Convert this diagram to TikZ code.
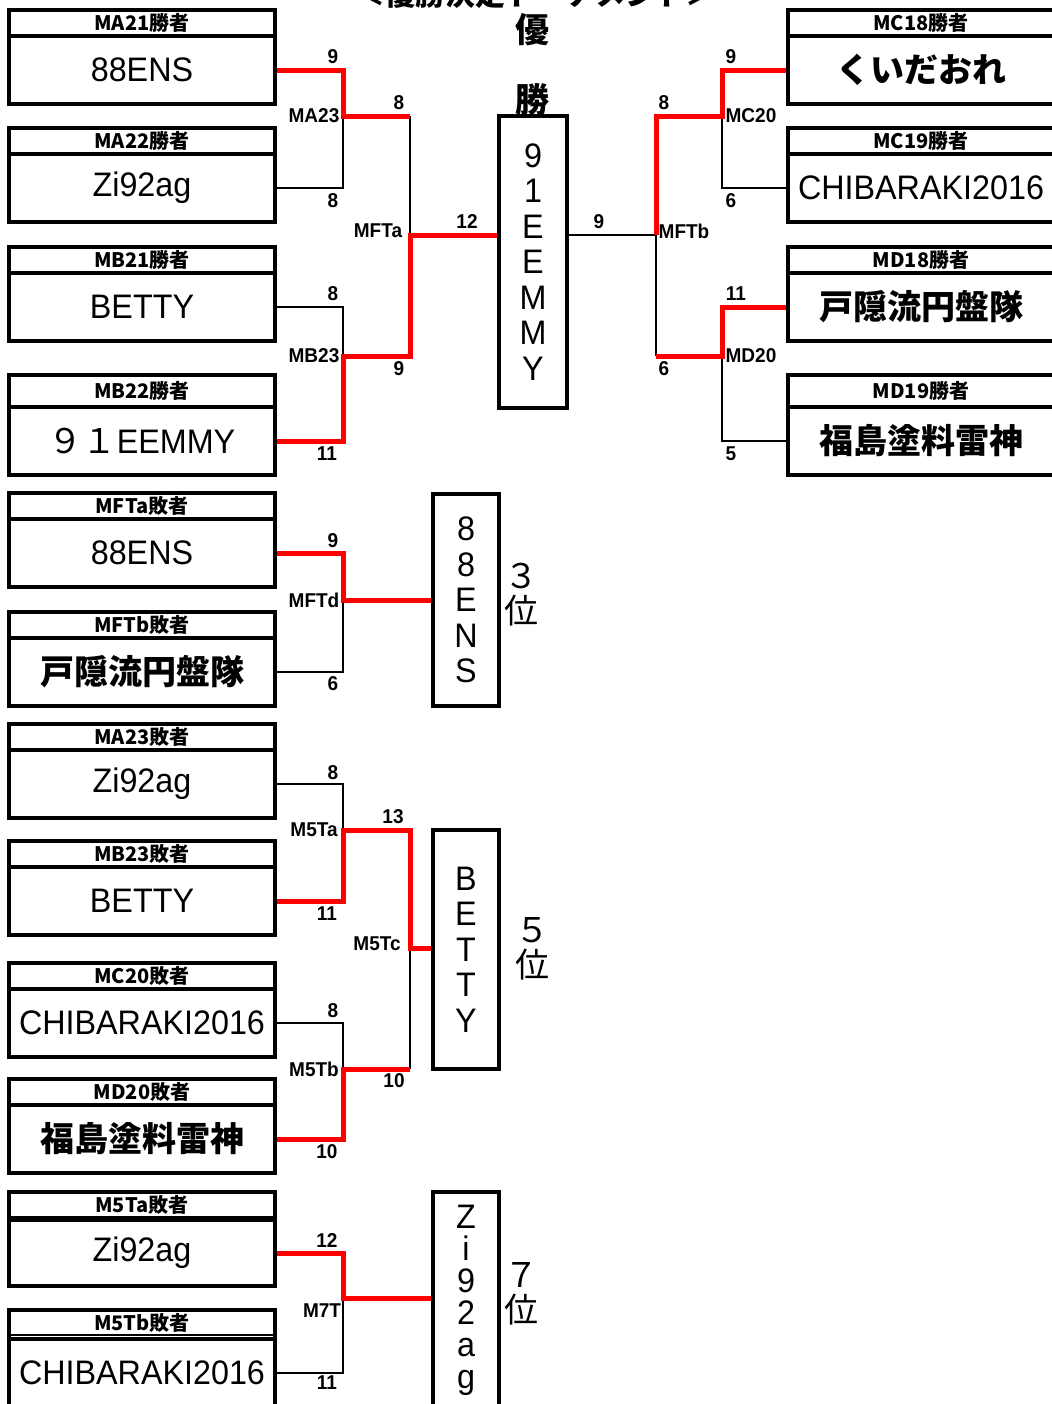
\documentclass[tikz,border=0pt]{standalone}
\usepackage{fontspec}
\setmainfont{Liberation Sans}
\newfontfamily\jp{Noto Sans CJK JP}
\newfontfamily\latn[FakeStretch=0.95]{Liberation Sans}
\begin{document}
\begin{tikzpicture}[x=0.5pt,y=-0.5pt,
  hdr/.style={draw,line width=2pt,inner sep=0pt,minimum width=133pt,minimum height=13pt,font=\jp\bfseries\fontsize{10}{10}\selectfont},
  team/.style={draw,line width=2pt,inner sep=0pt,minimum width=133pt,minimum height=34pt,font=\latn\fontsize{17}{17}\selectfont},
  rank/.style={draw,line width=2pt,inner sep=0pt,minimum width=33pt,align=center,font=\latn\fontsize{17}{17.75}\selectfont},
  win/.style={red,line width=2.5pt},
  lose/.style={line width=0.75pt},
  score/.style={inner sep=0pt,font=\latn\bfseries\fontsize{10}{10}\selectfont},
  big/.style={inner sep=0pt,align=center,font=\jp\fontsize{17}{17.5}\selectfont}]
\clip (0,0) rectangle (1052,1404);
\node[big,font=\jp\bfseries\fontsize{15}{15}\selectfont] (title) at (535,-6) {＜優勝決定トーナメント＞};
\node[big,font=\jp\bfseries\fontsize{17}{17}\selectfont] (yu) at (532,30) {優};
\node[big,font=\jp\bfseries\fontsize{17}{17}\selectfont] (sho) at (532,100) {勝};
% final, left half
\node[hdr] (ma21h) at (142,23) {MA21勝者};
\node[team] (ma21) at (142,70) {88ENS};
\node[hdr] (ma22h) at (142,141) {MA22勝者};
\node[team] (ma22) at (142,188) {Zi92ag};
\node[hdr] (mb21h) at (142,260) {MB21勝者};
\node[team] (mb21) at (142,307) {BETTY};
\node[hdr,minimum height=16pt] (mb22h) at (142,391) {MB22勝者};
\node[team] (mb22) at (142,441) {{\jp ９１}EEMMY};
% final, right half
\node[hdr] (mc18h) at (921,23) {MC18勝者};
\node[team] (mc18) at (921,70) {\jp\bfseries くいだおれ};
\node[hdr] (mc19h) at (921,141) {MC19勝者};
\node[team] (mc19) at (921,188) {CHIBARAKI2016};
\node[hdr] (md18h) at (921,260) {MD18勝者};
\node[team] (md18) at (921,307) {\jp\bfseries 戸隠流円盤隊};
\node[hdr,minimum height=16pt] (md19h) at (921,391) {MD19勝者};
\node[team] (md19) at (921,441) {\jp\bfseries 福島塗料雷神};
\node[rank,minimum width=34pt,minimum height=146pt] (champ) at (533,262) {9\\1\\E\\E\\M\\M\\Y};
\coordinate (ma23) at (343,116);
\coordinate (mb23) at (343,356);
\coordinate (mfta) at (410,235);
\coordinate (mc20) at (722,116);
\coordinate (md20) at (722,356);
\coordinate (mftb) at (656,235);
\draw[lose] (ma22.east) -| (ma23);
\draw[lose] (mb21.east) -| (mb23);
\draw[lose] (ma23 -| mfta) -- (mfta);
\draw[lose] (mc19.west) -| (mc20);
\draw[lose] (md19.west) -| (md20);
\draw[lose] (md20 -| mftb) -- (mftb) -- (mftb -| champ.east);
\draw[win] (ma21.east) -| (ma23) -- (ma23 -| mfta);
\draw[win] (mb22.east) -| (mb23) -- (mb23 -| mfta) -- (mfta) -- (mfta -| champ.west);
\draw[win] (mc18.west) -| (mc20) -- (mc20 -| mftb) -- (mftb);
\draw[win] (md18.west) -| (md20) -- (md20 -| mftb);
\node[score] (s1) at (333,57) {9};
\node[score] (s2) at (399,103) {8};
\node[score] (t1) at (314,116) {MA23};
\node[score] (s3) at (333,201) {8};
\node[score] (t2) at (378,231) {MFTa};
\node[score] (s4) at (467,222) {12};
\node[score] (s5) at (333,294) {8};
\node[score] (t3) at (314,356) {MB23};
\node[score] (s6) at (399,369) {9};
\node[score] (s7) at (327,454) {11};
\node[score] (s8) at (599,222) {9};
\node[score] (s9) at (731,57) {9};
\node[score] (s10) at (664,103) {8};
\node[score] (t4) at (751,116) {MC20};
\node[score] (s11) at (731,201) {6};
\node[score] (t5) at (684,231) {MFTb};
\node[score] (s12) at (736,294) {11};
\node[score] (t6) at (751,356) {MD20};
\node[score] (s13) at (664,369) {6};
\node[score] (s14) at (731,454) {5};
% 3rd place
\node[hdr] (mftalh) at (142,506) {MFTa敗者};
\node[team] (mftal) at (142,553) {88ENS};
\node[hdr] (mftblh) at (142,625) {MFTb敗者};
\node[team] (mftbl) at (142,672) {\jp\bfseries 戸隠流円盤隊};
\node[rank,minimum height=106pt] (third) at (466,600) {8\\8\\E\\N\\S};
\node[big] (r3) at (521,595) {３\\位};
\coordinate (mftd) at (343,600);
\draw[lose] (mftbl.east) -| (mftd);
\draw[win] (mftal.east) -| (mftd) -- (mftd -| third.west);
\node[score] (s15) at (333,541) {9};
\node[score] (t7) at (314,600) {MFTd};
\node[score] (s16) at (333,684) {6};
% 5th place
\node[hdr] (ma23lh) at (142,737) {MA23敗者};
\node[team] (ma23l) at (142,784) {Zi92ag};
\node[hdr] (mb23lh) at (142,854) {MB23敗者};
\node[team] (mb23l) at (142,901) {BETTY};
\node[hdr] (mc20lh) at (142,976) {MC20敗者};
\node[team] (mc20l) at (142,1023) {CHIBARAKI2016};
\node[hdr] (md20lh) at (142,1092) {MD20敗者};
\node[team] (md20l) at (142,1139) {\jp\bfseries 福島塗料雷神};
\node[rank,minimum height=119.5pt] (fifth) at (466,949.5) {B\\E\\T\\T\\Y};
\node[big] (r5) at (532,949) {５\\位};
\coordinate (m5ta) at (343,830);
\coordinate (m5tb) at (343,1069);
\coordinate (m5tc) at (410,948);
\draw[lose] (ma23l.east) -| (m5ta);
\draw[lose] (mc20l.east) -| (m5tb);
\draw[lose] (m5tb -| m5tc) -- (m5tc);
\draw[win] (mb23l.east) -| (m5ta) -- (m5ta -| m5tc) -- (m5tc) -- (m5tc -| fifth.west);
\draw[win] (md20l.east) -| (m5tb) -- (m5tb -| m5tc);
\node[score] (s17) at (333,773) {8};
\node[score] (t8) at (314,830) {M5Ta};
\node[score] (s18) at (393,817) {13};
\node[score] (s19) at (327,914) {11};
\node[score] (t9) at (377,944) {M5Tc};
\node[score] (s20) at (333,1011) {8};
\node[score] (t10) at (314,1069) {M5Tb};
\node[score] (s21) at (394,1081) {10};
\node[score] (s22) at (327,1152) {10};
% 7th place
\node[hdr,draw=none,minimum height=12.5pt] (m5talh) at (142,1204.5) {M5Ta敗者};
\node[team,minimum height=33pt] (m5tal) at (142,1253) {Zi92ag};
\node[hdr,draw=none,minimum height=12.5pt] (m5tblh) at (142,1322.5) {M5Tb敗者};
\node[team,minimum height=34pt] (m5tbl) at (142,1373) {CHIBARAKI2016};
\draw[line width=2pt] ([xshift=1pt,yshift=-1pt]m5tal.north west) |- ([xshift=-1pt,yshift=-1pt]m5talh.north east) -- ([xshift=-1pt,yshift=-1pt]m5tal.north east);
\draw[line width=1pt] ([xshift=1pt,yshift=1pt]m5talh.south west) -- ([xshift=-1pt,yshift=1pt]m5talh.south east);
\draw[line width=2pt] ([xshift=1pt,yshift=-1pt]m5tbl.north west) |- ([xshift=-1pt,yshift=-1pt]m5tblh.north east) -- ([xshift=-1pt,yshift=-1pt]m5tbl.north east);
\draw[line width=1pt] ([xshift=1pt,yshift=1pt]m5tblh.south west) -- ([xshift=-1pt,yshift=1pt]m5tblh.south east);
\node[rank,minimum height=108pt,font=\latn\fontsize{17}{16}\selectfont] (seventh) at (466,1300) {Z\\i\\9\\2\\a\\g};
\node[big] (r7) at (521,1294) {７\\位};
\coordinate (m7t) at (343,1298);
\draw[lose] (m5tbl.east) -| (m7t);
\draw[win] (m5tal.east) -| (m7t) -- (m7t -| seventh.west);
\node[score] (s23) at (327,1240) {12};
\node[score] (t11) at (322,1311) {M7T};
\node[score] (s24) at (327,1383) {11};
\end{tikzpicture}
\end{document}
